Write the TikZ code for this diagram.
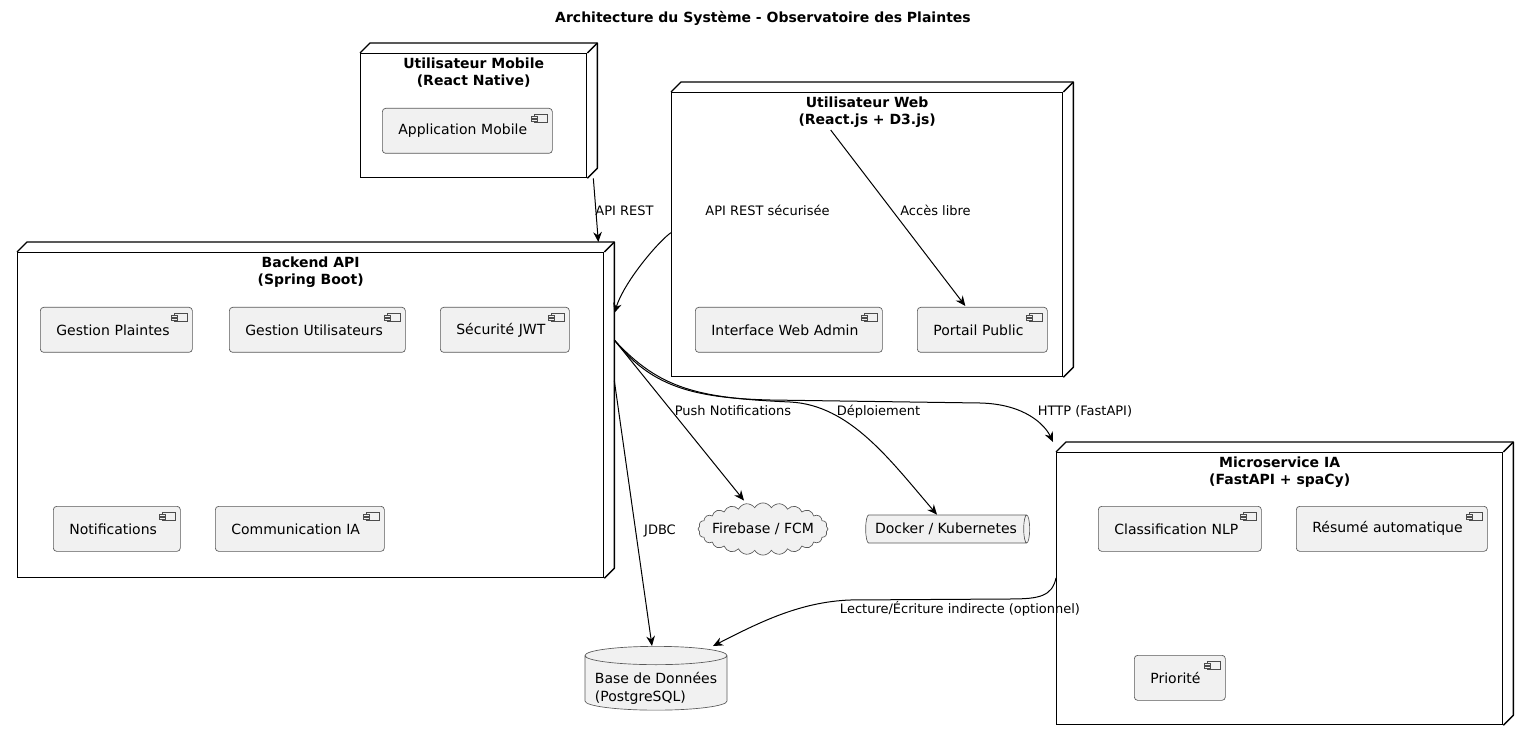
\documentclass[tikz,border=0pt]{standalone}
\usepackage{fontspec}
\setmainfont{DejaVu Sans}
\usetikzlibrary{positioning,arrows.meta,shapes.geometric,shapes.symbols}

% 3D side of a deployment node
\newcommand\nodedepth[1]{%
  \draw [framedepth] (#1.north west) -- ++(10,-10)
    -| ([shift={(10,-10)}]#1.south east) -- (#1.south east);
  \draw [framedepth] (#1.north east) -- ++(10,-10);}

\begin{document}
\begin{tikzpicture}
    [ x = .75pt, y = -.75pt
    , frame/.style =
      { draw, line width=1pt, fill=white, inner sep=0pt, anchor=north west }
    , framedepth/.style =
      { line width=1pt, line join=round }
    , frametitle/.style =
      { font=\bfseries\fontsize{10.5}{12.4}\selectfont, align=center
      , inner sep=0pt, anchor=north }
    , comp/.style =
      { draw=black!65, line width=.5pt, fill=black!5.5, rounded corners=2.5pt
      , anchor=north west, inner xsep=12pt, inner ysep=0pt
      , minimum height=33.75pt, align=left
      , font=\fontsize{10.5}{12.6}\selectfont }
    , icon/.style =
      { draw=black!70, line width=.4pt, fill=black!5.5 }
    , store/.style =
      { draw=black!65, line width=.5pt, fill=black!5.5, inner sep=0pt
      , font=\fontsize{10.5}{13.5}\selectfont }
    , edge/.style =
      { line width=.75pt, -{Stealth[length=7.5pt,width=6.5pt,inset=2.5pt]} }
    , lbl/.style =
      { font=\fontsize{9.75}{11}\selectfont, inner sep=0pt, anchor=base }
    ]
    \useasboundingbox (0,0) rectangle (1527,741);

    \node [font=\bfseries\fontsize{10.5}{12}\selectfont] (title) at (763,18)
      {Architecture du Système - Observatoire des Plaintes};

    % deployment nodes
    \node [frame, minimum width=169.5pt, minimum height=93pt] (mobile) at (360,53) {};
    \node [frame, minimum width=293.25pt, minimum height=213pt] (web) at (671,92) {};
    \node [frame, minimum width=439.5pt, minimum height=243.75pt] (backend) at (17,252) {};
    \node [frame, minimum width=334.5pt, minimum height=204pt] (micro) at (1056,452) {};
    \nodedepth{mobile}
    \nodedepth{web}
    \nodedepth{backend}
    \nodedepth{micro}

    \node [frametitle] (mobiletitle) at ([shift={(0,5)}]mobile.north)
      {Utilisateur Mobile\\(React Native)};
    \node [frametitle] (webtitle) at ([shift={(0,5)}]web.north)
      {Utilisateur Web\\(React.js + D3.js)};
    \node [frametitle] (backendtitle) at ([shift={(0,5)}]backend.north)
      {Backend API\\(Spring Boot)};
    \node [frametitle] (microtitle) at ([shift={(0,5)}]micro.north)
      {Microservice IA\\(FastAPI + spaCy)};

    % components
    \node [comp, text width=103.5pt] (appmobile) at (382,108) {Application Mobile};
    \node [comp, text width=116.25pt] (webadmin) at (695,307) {Interface Web Admin};
    \node [comp, text width=73.5pt] (portail) at (917,307) {Portail Public};
    \node [comp, text width=90pt] (plaintes) at (40,307) {Gestion Plaintes};
    \node [comp, text width=108pt] (users) at (229,307) {Gestion Utilisateurs};
    \node [comp, text width=72.75pt] (jwt) at (440,307) {Sécurité JWT};
    \node [comp, text width=71.25pt] (notif) at (53,506) {Notifications};
    \node [comp, text width=102.75pt] (commia) at (215,506) {Communication IA};
    \node [comp, text width=98.25pt] (nlp) at (1098,506) {Classification NLP};
    \node [comp, text width=119.25pt] (resume) at (1296,506) {Résumé automatique};
    \node [comp, text width=44.25pt] (priorite) at (1134,655) {Priorité};

    \foreach \c in {appmobile,webadmin,portail,plaintes,users,jwt,notif,commia,nlp,resume,priorite}
    {
      \draw [icon] ([shift={(-18,6)}]\c.north east) rectangle ++(13,8);
      \draw [icon] ([shift={(-21,8)}]\c.north east) rectangle ++(6,2);
      \draw [icon] ([shift={(-21,11)}]\c.north east) rectangle ++(6,2);
    }

    % outside services
    \node [store, cloud, cloud puffs=24, cloud puff arc=120, aspect=2.9
          , inner xsep=-5pt, inner ysep=-1pt
          , minimum width=97.5pt, minimum height=33.75pt] (fcm) at (763,529) {Firebase / FCM};
    \node [store, cylinder, aspect=.5, minimum height=123pt, minimum width=21pt]
      (docker) at (946,529) {Docker / Kubernetes};
    \node [store, cylinder, shape border rotate=90, aspect=.15
          , minimum width=106.5pt, minimum height=45pt] (db) at (656,683)
      {\raisebox{-4.5pt}[\height][\depth]{\begin{tabular}{@{}l@{}}Base de Données\\(PostgreSQL)\end{tabular}}};

    % connectors
    \coordinate (bkout) at ([shift={(10,88)}]backend.north east);
    \draw [edge] ([shift={(6,0)}]mobile.south east) -- ([shift={(-6,-10)}]backend.north east);
    \draw [edge] ([shift={(0,-2)}]web.west) .. controls (660,240) and (625,280)
      .. ([shift={(10,61)}]backend.north east);
    \draw [edge] ([shift={(-36.5,38)}]web.north) -- ([shift={(-17,-1)}]portail.north);
    \draw [edge] (bkout) -- ([shift={(-19,-2)}]fcm.north);
    \draw [edge] (bkout) .. controls (660,390) and (700,398) .. (790,402)
      .. controls (850,405) and (890,460) .. ([shift={(-9,0)}]docker.north);
    \draw [edge] (bkout) .. controls (650,385) and (690,398) .. (770,400)
      -- (980,403) .. controls (1025,404) and (1045,425) .. ([shift={(-3,-10)}]micro.north west);
    \draw [edge] ([shift={(10,-34.5)}]backend.east) -- ([shift={(-4,0)}]db.north);
    \draw [edge] ([shift={(0,126)}]micro.north west) .. controls (1052,596) and (1040,599)
      .. (1010,599) -- (850,600) .. controls (800,602) and (760,622) .. ([shift={(57,0)}]db.north);

    \node [lbl] (lblrest) at (624.5,216) {API REST};
    \node [lbl] (lblsecure) at (767.5,216) {API REST sécurisée};
    \node [lbl] (lbllibre) at (935.5,216) {Accès libre};
    \node [lbl] (lblpush) at (733,415) {Push Notifications};
    \node [lbl] (lbldeploy) at (878.5,415) {Déploiement};
    \node [lbl] (lblhttp) at (1085,415) {HTTP (FastAPI)};
    \node [lbl] (lbljdbc) at (660,534) {JDBC};
    \node [lbl] (lblrw) at (960,613) {Lecture/Écriture indirecte (optionnel)};
  \end{tikzpicture}
\end{document}
